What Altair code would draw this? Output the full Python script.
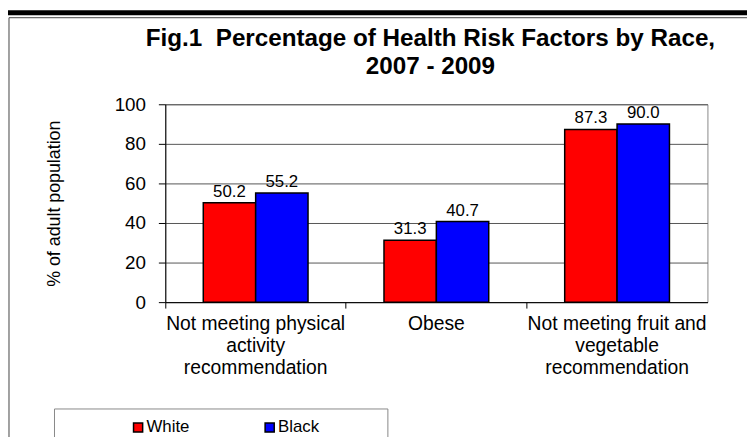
import altair as alt
import pandas as pd

categories = ["Not meeting physical\nactivity\nrecommendation",
              "Obese",
              "Not meeting fruit and\nvegetable\nrecommendation"]
races = ["White", "Black"]
white_values = [50.2, 31.3, 87.3]
black_values = [55.2, 40.7, 90.0]
y_ticks = [0.0, 20.0, 40.0, 60.0, 80.0, 100.0]

rows = []
for c, w, b in zip(categories, white_values, black_values):
    rows.append({"category": c, "race": "White", "value": w})
    rows.append({"category": c, "race": "Black", "value": b})
df = pd.DataFrame(rows)

FONT = "Liberation Sans"
W, H = 548, 200

x_enc = alt.X("category:N", sort=categories, title=None,
              scale=alt.Scale(paddingInner=0, paddingOuter=0),
              axis=alt.Axis(labelExpr="split(datum.label, '\\n')", labelAngle=0,
                            bandPosition=0,
                            labelFontSize=19.5, labelColor="black", labelFont=FONT,
                            labelLineHeight=22, labelPadding=7, labelOverlap=False,
                            domainColor="black", tickColor="black", tickSize=6,
                            labelLimit=400))
xo_enc = alt.XOffset("race:N", sort=races, scale=alt.Scale(paddingOuter=0.725, paddingInner=0))
y_axis = alt.Axis(values=y_ticks, labelFontSize=19, labelColor="black", labelFont=FONT,
                  labelOverlap=False, labelBound=False,
                  titleFontSize=18, titleFontWeight="normal", titleColor="black",
                  titleFont=FONT, titlePadding=51,
                  domainColor="black", tickColor="black", tickSize=7,
                  grid=True, gridColor="#555", gridWidth=1, labelPadding=13)
y_enc = alt.Y("value:Q", scale=alt.Scale(domain=[0, 100]),
              title="% of adult population", axis=y_axis)

bars = alt.Chart(df).mark_bar(stroke="black", strokeWidth=1.5).encode(
    x=x_enc, xOffset=xo_enc, y=y_enc,
    color=alt.Color("race:N", sort=races,
                    scale=alt.Scale(domain=races, range=["#FF0000", "#0000FF"]),
                    legend=alt.Legend(title=None, orient="none", legendX=-36, legendY=318,
                                      direction="horizontal", symbolType="square",
                                      symbolSize=85, symbolStrokeColor="black",
                                      symbolStrokeWidth=1.5, labelFontSize=17,
                                      labelFont=FONT, labelColor="black",
                                      labelOffset=0, columnPadding=72))
)

labels = alt.Chart(df).mark_text(baseline="alphabetic", dy=-6, fontSize=17, font=FONT,
                                 color="black").encode(
    x=x_enc, xOffset=xo_enc, y=y_enc,
    text=alt.Text("value:Q", format=".1f")
)

frame_df = pd.DataFrame({"k": [0]})
legend_box = alt.Chart(frame_df).mark_rect(fill="white", stroke="#888", strokeWidth=1).encode(
    x=alt.value(-112), x2=alt.value(225), y=alt.value(308), y2=alt.value(360)
)
top_thick = alt.Chart(frame_df).mark_rule(color="black", strokeWidth=5).encode(
    x=alt.value(-159), x2=alt.value(588), y=alt.value(-92.5)
)
top_thin = alt.Chart(frame_df).mark_rule(color="#444", strokeWidth=1).encode(
    x=alt.value(-158), x2=alt.value(588), y=alt.value(-87.5)
)
left_line = alt.Chart(frame_df).mark_rule(color="#444", strokeWidth=1).encode(
    x=alt.value(-158), y=alt.value(-87.5), y2=alt.value(360)
)

chart = alt.layer(top_thick, top_thin, left_line, legend_box, bars, labels).properties(
    width=W, height=H,
    padding={"left": 159, "top": 95, "right": 40, "bottom": 134},
    autosize=alt.AutoSizeParams(type="none"),
    title=alt.TitleParams(["Fig.1\u00a0\u00a0Percentage of Health Risk Factors by Race,", "2007 - 2009"],
                          font=FONT, fontSize=24.5, fontWeight="bold", color="black",
                          anchor="middle", frame="group", dx=-6, offset=0, dy=70,
                          lineHeight=28)
).configure_view(stroke="#888")

chart.save("out.html", embed_options={"renderer": "svg", "actions": False})
